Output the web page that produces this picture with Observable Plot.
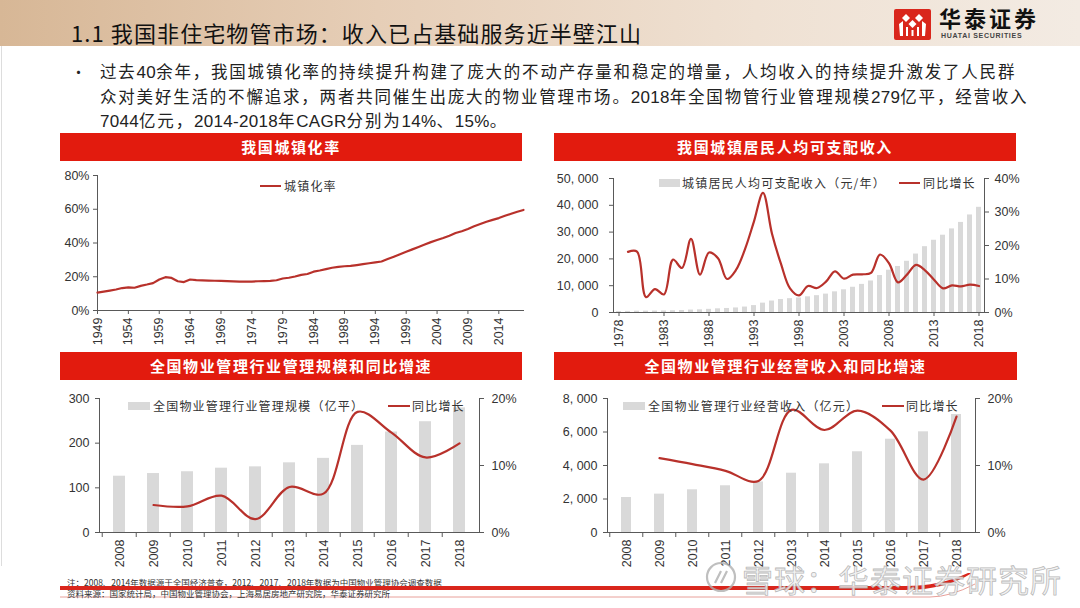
<!DOCTYPE html>
<html><head><meta charset="utf-8">
<script src="https://cdn.jsdelivr.net/npm/d3@7"></script>
<script src="https://cdn.jsdelivr.net/npm/@observablehq/plot@0.6"></script>
<style>
html,body{margin:0;padding:0;background:#fff;}
#page{position:relative;width:1080px;height:608px;overflow:hidden;background:#fff;font-family:"Noto Sans CJK SC","Noto Sans",sans-serif;color:#222;}
.hdr{position:absolute;left:0;top:0;width:1080px;height:46px;background:linear-gradient(90deg,#d7b796 0%,#e6ceb7 35%,#efe1d3 70%,#f3ebe3 100%);}
.title{position:absolute;left:71px;top:17px;font-size:22px;letter-spacing:1.1px;color:#111;white-space:nowrap;line-height:30px;}
.bullet{position:absolute;left:100px;top:60px;font-size:16.5px;letter-spacing:1.8px;line-height:23.5px;color:#222;white-space:nowrap;}
.bullet .n{font-family:"Liberation Sans Narrow","Liberation Sans",Arial,sans-serif;letter-spacing:0.3px;font-size:17px;}
.dot{position:absolute;left:71px;top:60px;font-size:15px;line-height:23.5px;}
.banner{position:absolute;height:28px;background:#E21B0E;color:#fff;font-weight:bold;font-size:15px;letter-spacing:1.6px;line-height:28px;text-align:center;}
.leg{position:absolute;font-size:12px;letter-spacing:1.2px;color:#333;white-space:nowrap;line-height:14px;}
.legline{position:absolute;height:2px;background:#B8312B;}
.legbox{position:absolute;height:8px;background:#D9D9D9;}
.foot{position:absolute;left:67px;font-size:8.5px;color:#333;white-space:nowrap;line-height:10px;}
.wm{position:absolute;left:742px;top:556px;font-size:31px;letter-spacing:1px;color:rgba(240,240,240,0.85);-webkit-text-stroke:0.8px rgba(170,170,170,0.8);white-space:nowrap;}
</style></head>
<body><div id="page">
<div class="hdr"></div>
<div style="position:absolute;left:1px;top:46px;width:1px;height:520px;background:#ddd"></div>
<div class="title">1.1 我国非住宅物管市场：收入已占基础服务近半壁江山</div>
<svg style="position:absolute;left:894px;top:9px" width="37" height="31" viewBox="0 0 37 31">
  <rect x="0" y="0" width="37" height="31" rx="2" fill="#D9261C"/>
  <path d="M8 9 L12 5 L16 9 L12 13 Z M21 9 L25 5 L29 9 L25 13 Z M14.5 15 L18.5 11 L22.5 15 L18.5 19 Z" fill="#fff"/>
  <path d="M5 15 L9 12 L9 27 L6 27 Z M32 15 L28 12 L28 27 L31 27 Z M12 18 L14 18 L14 27 L12 27 Z M23 18 L25 18 L25 27 L23 27 Z M17.5 21 L19.5 21 L19.5 27 L17.5 27 Z" fill="#fff"/>
</svg>
<div style="position:absolute;left:939px;top:4px;font-size:22px;font-weight:bold;letter-spacing:3px;color:#111;line-height:26px;">华泰证券</div>
<div style="position:absolute;left:941px;top:32px;font-size:7px;font-weight:bold;letter-spacing:0.7px;color:#444;line-height:8px;font-family:'Liberation Sans',Arial,sans-serif;">HUATAI SECURITIES</div>

<div class="dot">•</div>
<div class="bullet">过去<span class="n">40</span>余年，我国城镇化率的持续提升构建了庞大的不动产存量和稳定的增量，人均收入的持续提升激发了人民群<br>众对美好生活的不懈追求，两者共同催生出庞大的物业管理市场。<span class="n">2018</span>年全国物管行业管理规模<span class="n">279</span>亿平，经营收入<br><span class="n">7044</span>亿元，<span class="n">2014-2018</span>年<span class="n">CAGR</span>分别为<span class="n">14%</span>、<span class="n">15%</span>。</div>

<div class="banner" style="left:60px;top:133px;width:462px;">我国城镇化率</div>
<div class="banner" style="left:554px;top:133px;width:462px;">我国城镇居民人均可支配收入</div>
<div class="banner" style="left:60px;top:352px;width:462px;">全国物业管理行业管理规模和同比增速</div>
<div class="banner" style="left:554px;top:352px;width:463px;">全国物业管理行业经营收入和同比增速</div>

<div class="foot" style="top:577px;">注：2008、2014年数据源于全国经济普查，2012、2017、2018年数据为中国物业管理协会调查数据</div>
<svg style="position:absolute;left:0;top:570px" width="1080" height="38">
  <path d="M60 16 L905 16 Q940 16 968 3 L972 3 Q945 20 905 20 L60 20 Z" fill="#D9261C"/>
  <path d="M60 27 L930 27 Q950 27 975 14" fill="none" stroke="#E8A09A" stroke-width="1"/>
</svg>
<div class="foot" style="top:588px;">资料来源：国家统计局，中国物业管理协会，上海易居房地产研究院，华泰证券研究所</div>
</div>
<script>
// ---------------- data ----------------
const urbanStartYear = 1949;
const urbanRate = [10.64,11.18,11.78,12.46,13.31,13.69,13.48,14.62,15.39,16.25,
  18.41,19.75,19.29,17.33,16.84,18.37,17.98,17.86,17.74,17.62,
  17.5,17.38,17.26,17.13,17.2,17.16,17.34,17.44,17.55,17.92,
  18.96,19.39,20.16,21.13,21.62,23.01,23.71,24.52,25.32,25.81,
  26.21,26.41,26.94,27.46,27.99,28.51,29.04,30.48,31.91,33.35,
  34.78,36.22,37.66,39.09,40.53,41.76,42.99,44.34,45.89,46.99,
  48.34,49.95,51.27,52.57,53.73,54.77,56.1,57.35,58.52,59.58];
const urbanXTicks = [1949,1954,1959,1964,1969,1974,1979,1984,1989,1994,1999,2004,2009,2014];
const urbanYTicks = [0,20,40,60,80];

const incomeStartYear = 1978;
const incomeValues = [343,405,478,500,535,565,652,739,900,1002,
  1180,1374,1510,1701,2027,2577,3496,4283,4839,5160,
  5425,5854,6280,6860,7703,8472,9422,10493,11759,13786,
  15781,17175,19109,21810,24565,26955,28844,31195,33616,36396,39251];
const incomeGrowthStartYear = 1979;
const incomeGrowth = [18.1,18.2,4.6,7.0,5.4,15.8,13.3,22.0,11.3,17.9,
  16.2,10.0,12.7,18.9,27.2,35.7,23.5,14.5,7.2,5.1,
  7.9,7.3,9.2,12.3,10.1,11.3,11.4,11.8,17.3,14.7,
  9.0,11.3,14.2,12.6,9.8,7.2,8.1,7.8,8.3,7.9];
const incomeXTicks = [1978,1983,1988,1993,1998,2003,2008,2013,2018];
const incomeYTicks = [0,10000,20000,30000,40000,50000];
const incomeRTicks = [0,10,20,30,40];

const pmYears = [2008,2009,2010,2011,2012,2013,2014,2015,2016,2017,2018];
const pmScale = [126,132,136,144,147,156,166,195,225,248,279];
const pmGrowthYears = [2009,2010,2011,2012,2013,2014,2015,2016,2017,2018];
const pmScaleGrowth = [4.1,3.9,5.5,2.0,6.8,5.8,18.0,14.9,11.2,13.3];
const pmScaleYTicks = [0,100,200,300];
const pmRevenue = [2090,2290,2550,2790,3020,3540,4100,4820,5570,6010,7044];
const pmRevenueGrowth = [11.1,10.2,9.2,7.7,18.3,15.3,18.2,15.2,7.9,17.3];
const pmRevenueYTicks = [0,2000,4000,6000,8000];
const pmRTicks = [0,10,20];

// ---------------- styles ----------------
const RED = "#B8312B", AXIS = "#595959", BAR = "#D9D9D9";
const STYLE = "background:transparent;font-family:'Liberation Sans',Arial,sans-serif;font-size:12.5px;color:#333;overflow:visible;";
const page = document.getElementById("page");
function place(node, left, top, before) {
  node.style.position = "absolute";
  node.style.left = left + "px";
  node.style.top = top + "px";
  if (before) page.insertBefore(node, before); else page.appendChild(node);
}
function addDiv(cls, css, text) {
  const d = document.createElement("div");
  d.className = cls; d.style.cssText = css; if (text) d.textContent = text;
  page.appendChild(d);
  return d;
}
const pct = d => d + "%";
const thousands = d => d3.format(",")(d).replace(",", ", ");
const firstFoot = document.querySelector(".foot");

// ---------------- chart 1 ----------------
const urbanData = urbanRate.map((v, i) => ({year: urbanStartYear + i, v}));
const c1 = Plot.plot({
  width: 470, height: 185, marginLeft: 37, marginRight: 7, marginTop: 10, marginBottom: 40,
  style: STYLE,
  x: {domain: [urbanStartYear, urbanStartYear + urbanRate.length - 1], label: null},
  y: {domain: [0, 80], label: null},
  marks: [
    Plot.frame({anchor: "left", stroke: AXIS}),
    Plot.frame({anchor: "bottom", stroke: AXIS}),
    Plot.axisY({ticks: urbanYTicks, tickFormat: pct, tickSize: 4, tickPadding: 4, stroke: AXIS}),
    Plot.axisX({ticks: urbanXTicks, tickFormat: d => String(d), tickRotate: -90, tickSize: 4, tickPadding: 3, stroke: AXIS}),
    Plot.lineY(urbanData, {x: "year", y: "v", stroke: RED, strokeWidth: 2.2})
  ]
});
place(c1, 60, 165, firstFoot);
addDiv("legline", "left:260px;top:185px;width:21px;");
addDiv("leg", "left:284px;top:179px;", "城镇化率");

// ---------------- chart 2 ----------------
const incomeYears = incomeValues.map((v, i) => incomeStartYear + i);
const incomeData = incomeValues.map((v, i) => ({year: incomeStartYear + i, v}));
const growthData = incomeGrowth.map((v, i) => ({year: incomeGrowthStartYear + i, v}));
const dims2 = {width: 520, height: 185, marginLeft: 68, marginRight: 81, marginTop: 13, marginBottom: 38, style: STYLE};
const x2 = {type: "band", domain: incomeYears, paddingInner: 0.45, paddingOuter: 0.225, label: null};
const c2 = Plot.plot({
  ...dims2, x: x2,
  y: {domain: [0, 50000], label: null},
  marks: [
    Plot.barY(incomeData, {x: "year", y: "v", fill: BAR}),
    Plot.frame({anchor: "left", stroke: AXIS}),
    Plot.frame({anchor: "bottom", stroke: AXIS}),
    Plot.axisY({ticks: incomeYTicks, tickFormat: thousands, tickSize: 4, tickPadding: 11, stroke: AXIS}),
    Plot.axisX({ticks: incomeXTicks, tickFormat: d => String(d), tickRotate: -90, tickSize: 4, tickPadding: 3, stroke: AXIS})
  ]
});
place(c2, 545, 165, firstFoot);
const c2b = Plot.plot({
  ...dims2, x: {...x2, axis: null},
  y: {domain: [0, 40], label: null},
  marks: [
    Plot.frame({anchor: "right", stroke: AXIS}),
    Plot.axisY({anchor: "right", ticks: incomeRTicks, tickFormat: pct, tickSize: 4, tickPadding: 6, stroke: AXIS}),
    Plot.lineY(growthData, {x: "year", y: "v", stroke: RED, strokeWidth: 2.2, curve: "catmull-rom"})
  ]
});
place(c2b, 545, 165, firstFoot);
addDiv("legbox", "left:659px;top:179px;width:21px;");
addDiv("leg", "left:682px;top:176px;", "城镇居民人均可支配收入（元/年）");
addDiv("legline", "left:899px;top:182px;width:21px;");
addDiv("leg", "left:923px;top:176px;", "同比增长");

// ---------------- charts 3 & 4 ----------------
function pmChart(left, width, mL, mR, values, yDomain, yTicks, yFmt, growth, pad, legText, leg) {
  const data = values.map((v, i) => ({year: pmYears[i], v}));
  const gdata = growth.map((v, i) => ({year: pmGrowthYears[i], v}));
  const dims = {width, height: 188, marginLeft: mL, marginRight: mR, marginTop: 16, marginBottom: 38, style: STYLE};
  const xs = {type: "band", domain: pmYears, paddingInner: pad, paddingOuter: pad / 2, label: null};
  const step = (width - mL - mR) / pmYears.length;
  const base = Plot.plot({
    ...dims, x: xs,
    y: {domain: yDomain, label: null},
    marks: [
      Plot.barY(data, {x: "year", y: "v", fill: BAR}),
      Plot.frame({anchor: "left", stroke: AXIS}),
      Plot.frame({anchor: "bottom", stroke: AXIS}),
      Plot.axisY({ticks: yTicks, tickFormat: yFmt, tickSize: 4, tickPadding: 6, stroke: AXIS}),
      Plot.axisX({ticks: pmYears, tickFormat: () => "", tickSize: 5, dx: -step / 2, stroke: AXIS}),
      Plot.axisX({ticks: pmYears, tickFormat: d => String(d), tickRotate: -90, tickSize: 0, tickPadding: 7})
    ]
  });
  place(base, left, 382, firstFoot);
  const over = Plot.plot({
    ...dims, x: {...xs, axis: null},
    y: {domain: [0, 20], label: null},
    marks: [
      Plot.frame({anchor: "right", stroke: AXIS}),
      Plot.axisY({anchor: "right", ticks: pmRTicks, tickFormat: pct, tickSize: 4, tickPadding: 8, stroke: AXIS}),
      Plot.lineY(gdata, {x: "year", y: "v", stroke: RED, strokeWidth: 2.2, curve: "catmull-rom"})
    ]
  });
  place(over, left, 382, firstFoot);
  addDiv("legbox", `left:${leg[0]}px;top:402px;width:22px;`);
  addDiv("leg", `left:${leg[0] + 25}px;top:399px;`, legText);
  addDiv("legline", `left:${leg[1]}px;top:405px;width:22px;`);
  addDiv("leg", `left:${leg[1] + 24}px;top:399px;`, "同比增长");
}
pmChart(60, 480, 39, 61, pmScale, [0, 300], pmScaleYTicks, d => String(d), pmScaleGrowth, 0.65,
  "全国物业管理行业管理规模（亿平）", [128, 388]);
pmChart(545, 520, 62, 90, pmRevenue, [0, 8000], pmRevenueYTicks, thousands, pmRevenueGrowth, 0.7,
  "全国物业管理行业经营收入（亿元）", [623, 882]);

// watermark
const wmIcon = document.createElementNS("http://www.w3.org/2000/svg", "svg");
wmIcon.setAttribute("width", "34"); wmIcon.setAttribute("height", "34");
wmIcon.innerHTML = '<circle cx="17" cy="17" r="14" fill="none" stroke="rgba(175,175,175,0.8)" stroke-width="2.2"/><path d="M11 23 L17 11 M17 23 L23 11" stroke="rgba(175,175,175,0.8)" stroke-width="2.2" fill="none"/>';
wmIcon.style.cssText = "position:absolute;left:704px;top:560px;";
page.appendChild(wmIcon);
addDiv("wm", "", "雪球：华泰证券研究所");
</script>
</body></html>
